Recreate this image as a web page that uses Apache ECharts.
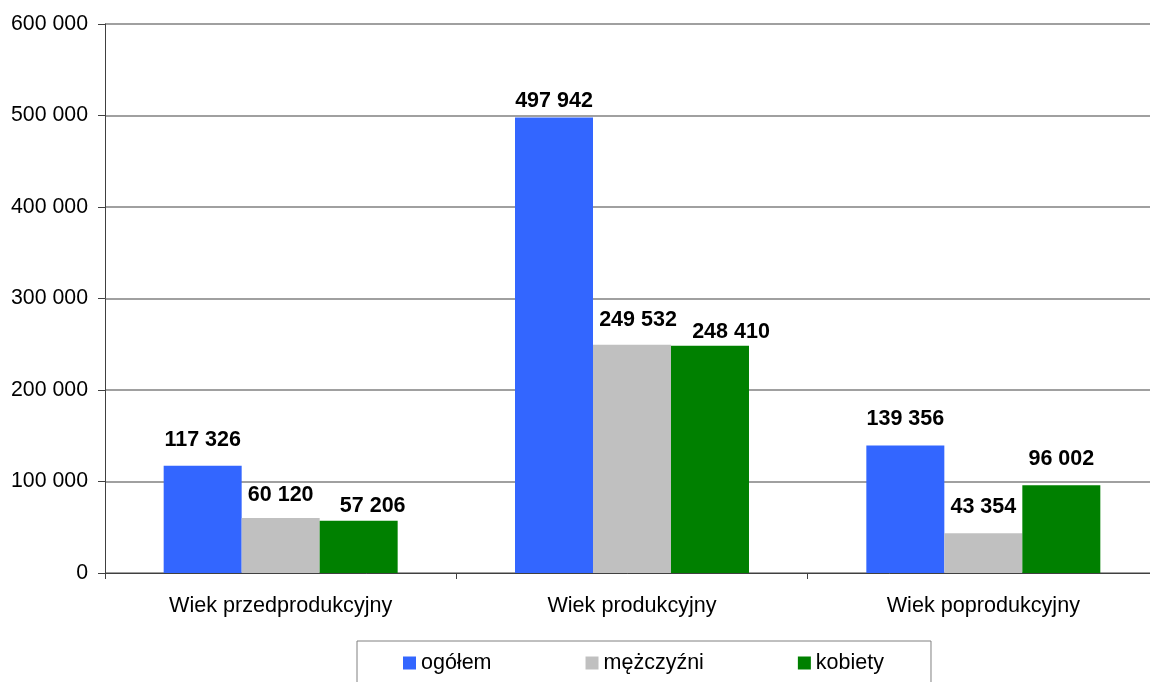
<!DOCTYPE html>
<html>
<head>
<meta charset="utf-8">
<title>Ludność wg ekonomicznych grup wieku</title>
<script src="https://cdn.jsdelivr.net/npm/echarts@6/dist/echarts.min.js"></script>
<style>
    html, body { margin: 0; padding: 0; background: #fff; }
    #chart { width: 1150px; height: 682px; }
</style>
</head>
<body>
<div id="chart"></div>
<script>
// kategorie i wartości
const categories = ['Wiek przedprodukcyjny', 'Wiek produkcyjny', 'Wiek poprodukcyjny'];
const seriesNames = ['ogółem', 'mężczyźni', 'kobiety'];
const ogolem = [117326, 497942, 139356];
const mezczyzni = [60120, 249532, 43354];
const kobiety = [57206, 248410, 96002];
const colors = ['#3366FF', '#C0C0C0', '#008000'];

// przesunięcia etykiet (jak w oryginale, żeby się nie nakładały) [seria][kategoria]
const labelShift = [
    [[0, 0], [0, 10], [0, 0]],
    [[0, 3], [6, 1], [0, 0]],
    [[14, 11], [21, 12], [0, 0]]
];

// 117326 -> "117 326"
function fmt(v) {
    return String(v).replace(/\B(?=(\d{3})+(?!\d))/g, ' ');
}

const font = 'Liberation Sans, Arial, sans-serif';

function makeSeries(idx, data) {
    return {
        name: seriesNames[idx],
        type: 'bar',
        data: data.map((v, i) => ({
            value: v,
            label: {offset: labelShift[idx][i]}
        })),
        barGap: '0%',
        barCategoryGap: '33.4%',
        itemStyle: {color: colors[idx]},
        label: {
            show: true,
            position: 'top',
            distance: 15,
            fontFamily: font,
            fontSize: 21.5,
            fontWeight: 'bold',
            color: '#000',
            formatter: p => fmt(p.value)
        }
    };
}

let myChart = echarts.init(document.getElementById('chart'), null, {renderer: 'canvas'});

let option = {
    animation: false,
    color: colors,
    grid: {
        left: 105,
        top: 24,
        width: 1054,
        height: 549,
        containLabel: false,
        outerBoundsMode: 'none'
    },
    legend: {
        data: seriesNames,
        left: 357,
        top: 641,
        itemWidth: 13,
        itemHeight: 13,
        itemGap: 94,
        icon: 'rect',
        padding: [11, 47, 40, 46],
        borderColor: '#808080',
        borderWidth: 1,
        textStyle: {
            fontFamily: font,
            fontSize: 21.5,
            color: '#000'
        }
    },
    xAxis: {
        type: 'category',
        data: categories,
        axisLine: {lineStyle: {color: '#404040', width: 1}},
        axisTick: {show: true, length: 6, lineStyle: {color: '#404040'}},
        axisLabel: {
            margin: 22,
            fontFamily: font,
            fontSize: 21.6,
            color: '#000'
        }
    },
    yAxis: {
        type: 'value',
        min: 0,
        max: 600000,
        interval: 100000,
        axisLine: {show: true, lineStyle: {color: '#404040', width: 1}},
        axisTick: {show: true, length: 7, lineStyle: {color: '#404040'}},
        splitLine: {lineStyle: {color: '#808080', width: 1.5}},
        axisLabel: {
            margin: 17,
            fontFamily: font,
            fontSize: 21.3,
            color: '#000',
            formatter: v => fmt(v)
        }
    },
    series: [
        makeSeries(0, ogolem),
        makeSeries(1, mezczyzni),
        makeSeries(2, kobiety)
    ]
};

myChart.setOption(option);
</script>
</body>
</html>
